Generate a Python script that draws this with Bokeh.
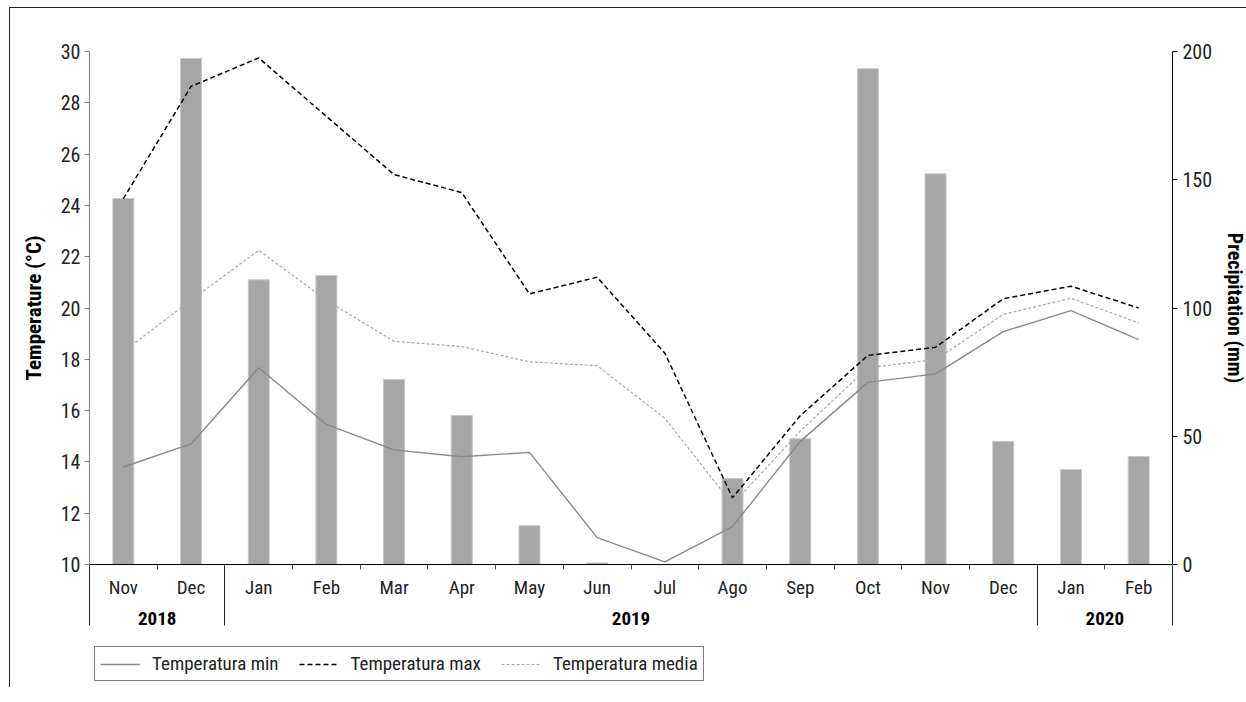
from bokeh.plotting import figure
from bokeh.layouts import column
from bokeh.models import Range1d, LinearAxis, FixedTicker, Legend, LegendItem
from bokeh.embed import file_html
from bokeh.resources import INLINE

# ---- data ----
years = ["2018", "2018"] + ["2019"] * 12 + ["2020", "2020"]
months = ["Nov", "Dec", "Jan", "Feb", "Mar", "Apr", "May", "Jun", "Jul", "Ago",
          "Sep", "Oct", "Nov", "Dec", "Jan", "Feb"]
precip = [142.7, 197.3, 111.0, 112.7, 72.1, 58.1, 15.1, 0.6, 0.0, 33.5,
          49.0, 193.3, 152.3, 48.0, 37.0, 42.1]
t_min = [13.8, 14.7, 17.67, 15.46, 14.47, 14.2, 14.37, 11.05, 10.1, 11.48,
         14.8, 17.1, 17.43, 19.08, 19.9, 18.77]
t_max = [24.26, 28.64, 29.75, 27.47, 25.2, 24.5, 20.55, 21.2, 18.24, 12.6,
         15.8, 18.15, 18.47, 20.36, 20.85, 20.0]
t_media = [18.3, 20.3, 22.25, 20.3, 18.7, 18.5, 17.9, 17.75, 15.7, 12.35,
           15.2, 17.67, 17.99, 19.75, 20.38, 19.42]
temp_ticks = [10, 12, 14, 16, 18, 20, 22, 24, 26, 28, 30]
precip_ticks = [0, 50, 100, 150, 200]
year_labels = ["2018", "2019", "2020"]
series_names = ["Temperatura min", "Temperatura max", "Temperatura media"]

FONT = "'Liberation Sans Narrow', 'Roboto Condensed', 'DejaVu Sans Condensed', 'Liberation Sans', sans-serif"

STYLE_MIN = dict(line_color="#8a8a8a", line_width=1.4)
STYLE_MAX = dict(line_color="black", line_width=1.5, line_dash="5 3")
STYLE_MED = dict(line_color="#a8a8a8", line_width=1.2, line_dash="3 2")

n = len(months)
# category slots on a half-unit scale (0..2n): month i centre = 2i+1, boundaries = even numbers
xpos = [2 * i + 1 for i in range(n)]
month_bounds = [2 * i for i in range(n + 1)]
year_bounds = [0]
year_centres = []
start = 0
for y in year_labels:
    cnt = years.count(y)
    year_centres.append(2 * start + cnt)
    start += cnt
    year_bounds.append(2 * start)

p = figure(
    x_range=Range1d(0, 2 * n),
    y_range=Range1d(10, 30),
    frame_width=1083, frame_height=513,
    x_axis_location=None,
    output_backend="svg", toolbar_location=None,
    min_border_left=79, min_border_right=74, min_border_top=43, min_border_bottom=0,
)
p.outline_line_color = None
p.xgrid.grid_line_color = None
p.ygrid.grid_line_color = None
p.background_fill_color = "white"
p.border_fill_color = "white"

p.extra_y_ranges = {"precip": Range1d(0, 200)}

bars = p.vbar(x=xpos, top=precip, width=0.62, y_range_name="precip",
              fill_color="#a6a6a6", line_color="#c8c8c8", line_width=1)

p.line(x=xpos, y=t_min, **STYLE_MIN)
p.line(x=xpos, y=t_max, **STYLE_MAX)
p.line(x=xpos, y=t_media, **STYLE_MED)

# left axis
ly = p.yaxis[0]
ly.ticker = FixedTicker(ticks=temp_ticks)
ly.axis_label = "Temperature (°C)"
ly.axis_label_text_font = FONT
ly.axis_label_text_font_style = "bold"
ly.axis_label_text_font_size = "21px"
ly.axis_label_text_color = "black"
ly.major_label_text_font = FONT
ly.major_label_text_font_size = "20px"
ly.major_label_text_color = "#222"
ly.axis_line_color = "#808080"
ly.major_tick_line_color = "#808080"
ly.major_tick_in = 0
ly.major_tick_out = 5
ly.minor_tick_line_color = None
ly.major_label_standoff = 4
ly.axis_label_standoff = 12

# right axis
ry = LinearAxis(y_range_name="precip", ticker=FixedTicker(ticks=precip_ticks))
ry.axis_label = "Precipitation (mm)"
ry.axis_label_text_font = FONT
ry.axis_label_text_font_style = "bold"
ry.axis_label_text_font_size = "20px"
ry.axis_label_text_color = "black"
ry.major_label_text_font = FONT
ry.major_label_text_font_size = "20px"
ry.major_label_text_color = "#222"
ry.axis_line_color = "black"
ry.major_tick_line_color = "black"
ry.major_tick_in = 0
ry.major_tick_out = 5
ry.minor_tick_line_color = None
ry.major_label_standoff = 5
ry.axis_label_standoff = 8
p.add_layout(ry, "right")

# month axis (labels at centres, short ticks between months)
mx = LinearAxis(ticker=FixedTicker(ticks=xpos, minor_ticks=month_bounds),
                major_label_overrides={c: m for c, m in zip(xpos, months)})
mx.axis_line_color = "black"
mx.major_tick_out = 0
mx.major_tick_in = 0
mx.minor_tick_out = 5
mx.minor_tick_in = 0
mx.minor_tick_line_color = "#444"
mx.major_label_text_font = FONT
mx.major_label_text_font_size = "19px"
mx.major_label_text_color = "#222"
mx.major_label_standoff = 6
p.add_layout(mx, "below")

MONTH_AXIS_H = 35
# year axis (group labels, long separators)
yx = LinearAxis(ticker=FixedTicker(ticks=year_centres, minor_ticks=year_bounds),
                major_label_overrides={c: y for c, y in zip(year_centres, year_labels)})
yx.axis_line_color = None
yx.major_tick_out = 0
yx.major_tick_in = 0
yx.minor_tick_in = MONTH_AXIS_H
yx.minor_tick_out = 24
yx.minor_tick_line_color = "#222"
yx.major_label_text_font = FONT
yx.major_label_text_font_size = "19px"
yx.major_label_text_font_style = "bold"
yx.major_label_text_color = "black"
yx.major_label_standoff = -14
p.add_layout(yx, "below")

# legend strip under the chart (same line styles as the series)
nan = float("nan")
q = figure(x_range=Range1d(0, 1), y_range=Range1d(0, 1), width=1236, height=60,
           output_backend="svg", toolbar_location=None,
           x_axis_location=None, y_axis_location=None,
           min_border_left=0, min_border_right=0, min_border_top=0, min_border_bottom=0)
q.outline_line_color = None
q.xgrid.grid_line_color = None
q.ygrid.grid_line_color = None
q.background_fill_alpha = 0
q.border_fill_alpha = 0
l_min = q.line(x=[nan], y=[nan], **STYLE_MIN)
l_max = q.line(x=[nan], y=[nan], **STYLE_MAX)
l_med = q.line(x=[nan], y=[nan], **STYLE_MED)

legend = Legend(
    items=[LegendItem(label=series_names[0], renderers=[l_min]),
           LegendItem(label=series_names[1], renderers=[l_max]),
           LegendItem(label=series_names[2], renderers=[l_med])],
    orientation="horizontal", location=(5, 6),
    label_text_font=FONT, label_text_font_size="19px", label_text_color="#222",
    border_line_color="black", border_line_width=1,
    glyph_width=40, label_standoff=12, spacing=20, padding=5, margin=0,
    background_fill_alpha=1,
)
q.add_layout(legend, "center")

layout = column(p, q, spacing=0)
layout.styles = {"margin": "7px 0 0 9px", "border-top": "1px solid #222", "border-left": "1px solid #222"}

open("out.html", "w").write(file_html(layout, INLINE))
